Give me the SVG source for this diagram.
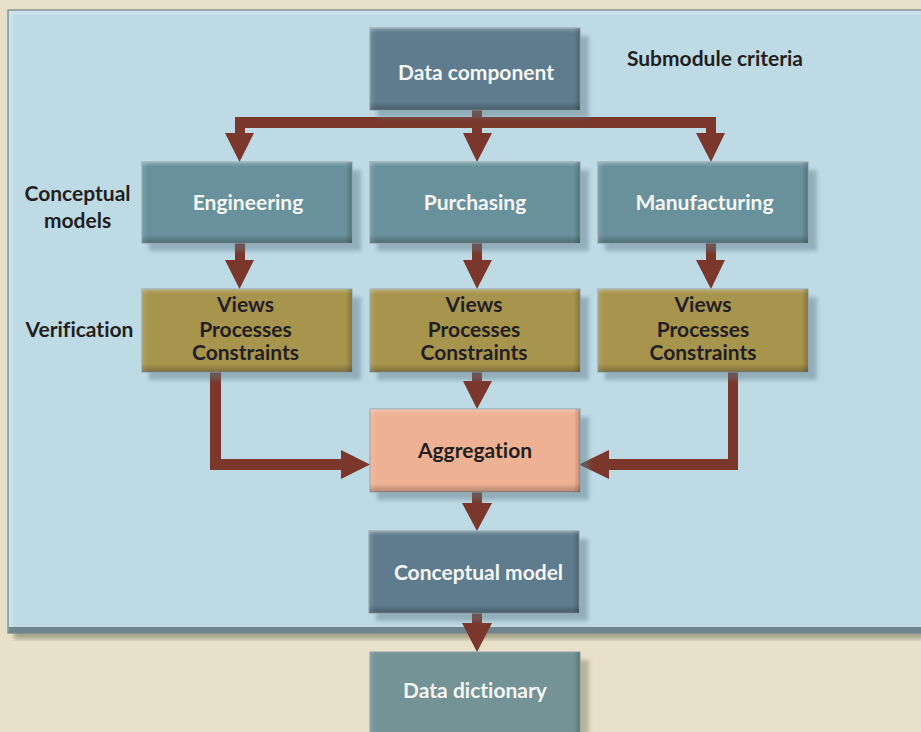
<svg xmlns="http://www.w3.org/2000/svg" width="921" height="732" viewBox="0 0 921 732">
<defs>
<style>
.t{font-family:Lato,"Open Sans","Liberation Sans",sans-serif;font-weight:bold;font-size:21px;text-anchor:middle;font-variant-ligatures:none}
.w{fill:#f6f6f4}
.d{fill:#231f20}
.arr{fill:#7b372c}
.box{stroke:#8d9ea6;stroke-width:1}
.sh{fill:#5f7a88;opacity:0.45;filter:url(#blur)}
</style>
<filter id="blur" x="-10%" y="-20%" width="120%" height="140%"><feGaussianBlur stdDeviation="2"/></filter>
<linearGradient id="bevel" x1="0" y1="0" x2="0" y2="1">
<stop offset="0" stop-color="#fff" stop-opacity="0.25"/>
<stop offset="0.06" stop-color="#fff" stop-opacity="0"/>
<stop offset="0.9" stop-color="#000" stop-opacity="0"/>
<stop offset="1" stop-color="#000" stop-opacity="0.25"/>
</linearGradient>
<linearGradient id="bevelx" x1="0" y1="0" x2="1" y2="0">
<stop offset="0" stop-color="#fff" stop-opacity="0.12"/>
<stop offset="0.03" stop-color="#fff" stop-opacity="0"/>
<stop offset="0.97" stop-color="#000" stop-opacity="0"/>
<stop offset="1" stop-color="#000" stop-opacity="0.2"/>
</linearGradient>
</defs>
<rect x="0" y="0" width="921" height="732" fill="#e8e0c8"/>
<!-- panel -->
<rect x="14" y="630" width="910" height="9" fill="#a6a38c" filter="url(#blur)"/>
<rect x="8" y="10" width="920" height="623" fill="#bedae5" stroke="#74858c" stroke-width="1.2"/>
<rect x="8.6" y="627" width="920" height="6" fill="#70868f"/>
<rect x="9" y="11" width="920" height="4" fill="#d3e6ee" opacity="0.6"/>
<rect x="9" y="11" width="4" height="616" fill="#d3e6ee" opacity="0.6"/>

<g id="connectors">
<polygon class="arr" points="472,110 482,110 482,117 716,117 716,133 725,133 711,162 696,133 706,133 706,128 482,128 482,133 492,133 477,162 463,133 472,133 472,128 245,128 245,133 254,133 239.5,162 225,133 235,133 235,117 472,117"/>
<polygon class="arr" points="235,243 245,243 245,260 254,260 239.5,289 225,260 235,260"/>
<polygon class="arr" points="472,243 482,243 482,260 492,260 477,289 463,260 472,260"/>
<polygon class="arr" points="706,243 716,243 716,260 725,260 711,289 696,260 706,260"/>
<polygon class="arr" points="472,372 482,372 482,381 492,381 477,409 463,381 472,381"/>
<polygon class="arr" points="210,372 221,372 221,459 341,459 341,450 370,464.5 341,479 341,470 210,470"/>
<polygon class="arr" points="728,372 738,372 738,470 609,470 609,479 579,464.5 609,450 609,459 728,459"/>
<polygon class="arr" points="472,492 482,492 482,503 492,503 477,531 462,503 472,503"/>
<polygon class="arr" points="472,613 482,613 482,623 492,623 477,652 462,623 472,623"/>
</g>

<g id="data-component">
<rect class="sh" x="377" y="36" width="212" height="82"/>
<rect class="box" x="370" y="28" width="210" height="82" fill="#5f7c8e"/>
<rect x="370" y="28" width="210" height="82" fill="url(#bevel)"/>
<rect x="370" y="28" width="210" height="82" fill="url(#bevelx)"/>
<text class="t w" x="476" y="80">Data component</text>
</g>

<g id="engineering">
<rect class="sh" x="149" y="170" width="212" height="81"/>
<rect class="box" x="142" y="162" width="210" height="81" fill="#68919b"/>
<rect x="142" y="162" width="210" height="81" fill="url(#bevel)"/>
<rect x="142" y="162" width="210" height="81" fill="url(#bevelx)"/>
<text class="t w" x="248" y="210">Engineering</text>
</g>

<g id="purchasing">
<rect class="sh" x="377" y="170" width="212" height="81"/>
<rect class="box" x="370" y="162" width="210" height="81" fill="#68919b"/>
<rect x="370" y="162" width="210" height="81" fill="url(#bevel)"/>
<rect x="370" y="162" width="210" height="81" fill="url(#bevelx)"/>
<text class="t w" x="475" y="210">Purchasing</text>
</g>

<g id="manufacturing">
<rect class="sh" x="605" y="170" width="212" height="81"/>
<rect class="box" x="598" y="162" width="210" height="81" fill="#68919b"/>
<rect x="598" y="162" width="210" height="81" fill="url(#bevel)"/>
<rect x="598" y="162" width="210" height="81" fill="url(#bevelx)"/>
<text class="t w" x="704.5" y="210">Manufacturing</text>
</g>

<g id="views-engineering">
<rect class="sh" x="149" y="297" width="212" height="83"/>
<rect class="box" x="142" y="289" width="210" height="83" fill="#a7944d"/>
<rect x="142" y="289" width="210" height="83" fill="url(#bevel)"/>
<rect x="142" y="289" width="210" height="83" fill="url(#bevelx)"/>
<text class="t d" x="245.5" y="312">Views</text>
<text class="t d" x="245.5" y="337">Processes</text>
<text class="t d" x="245.5" y="360">Constraints</text>
</g>

<g id="views-purchasing">
<rect class="sh" x="377" y="297" width="212" height="83"/>
<rect class="box" x="370" y="289" width="210" height="83" fill="#a7944d"/>
<rect x="370" y="289" width="210" height="83" fill="url(#bevel)"/>
<rect x="370" y="289" width="210" height="83" fill="url(#bevelx)"/>
<text class="t d" x="474" y="312">Views</text>
<text class="t d" x="474" y="337">Processes</text>
<text class="t d" x="474" y="360">Constraints</text>
</g>

<g id="views-manufacturing">
<rect class="sh" x="605" y="297" width="212" height="83"/>
<rect class="box" x="598" y="289" width="210" height="83" fill="#a7944d"/>
<rect x="598" y="289" width="210" height="83" fill="url(#bevel)"/>
<rect x="598" y="289" width="210" height="83" fill="url(#bevelx)"/>
<text class="t d" x="703" y="312">Views</text>
<text class="t d" x="703" y="337">Processes</text>
<text class="t d" x="703" y="360">Constraints</text>
</g>

<g id="aggregation">
<rect class="sh" x="377" y="417" width="212" height="83"/>
<rect class="box" x="370" y="409" width="210" height="83" fill="#efb194"/>
<rect x="370" y="409" width="210" height="83" fill="url(#bevel)"/>
<rect x="370" y="409" width="210" height="83" fill="url(#bevelx)"/>
<text class="t d" x="475" y="458">Aggregation</text>
</g>

<g id="conceptual-model">
<rect class="sh" x="376" y="539" width="212" height="82"/>
<rect class="box" x="369" y="531" width="210" height="82" fill="#5f7c8e"/>
<rect x="369" y="531" width="210" height="82" fill="url(#bevel)"/>
<rect x="369" y="531" width="210" height="82" fill="url(#bevelx)"/>
<text class="t w" x="478.5" y="580">Conceptual model</text>
</g>

<g id="data-dictionary">
<rect x="377" y="660" width="212" height="82" fill="#8a8670" opacity="0.5" filter="url(#blur)"/>
<rect class="box" x="370" y="652" width="210" height="82" fill="#739396"/>
<rect x="370" y="652" width="210" height="82" fill="url(#bevelx)"/>
<text class="t w" x="475" y="698">Data dictionary</text>
</g>

<g id="labels">
<text class="t d" x="715" y="66">Submodule criteria</text>
<text class="t d" x="77.5" y="201">Conceptual</text>
<text class="t d" x="77.5" y="228">models</text>
<text class="t d" x="79.5" y="337">Verification</text>
</g>
</svg>
